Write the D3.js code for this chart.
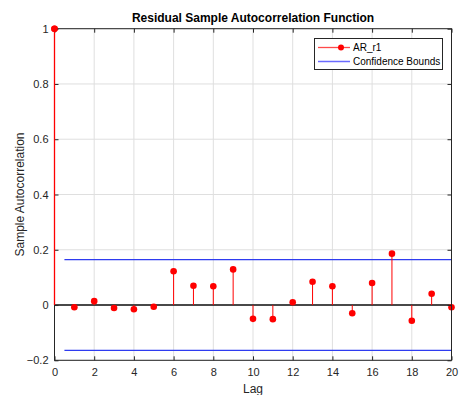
<!DOCTYPE html>
<html><head><meta charset="utf-8">
<script src="https://cdn.jsdelivr.net/npm/d3@7"></script>
<style>body{margin:0;background:#fff}svg{display:block;font-family:"Liberation Sans",Arial,sans-serif}</style>
</head><body><svg id="c" width="459" height="395"></svg>
<script>
const lags = [0,1,2,3,4,5,6,7,8,9,10,11,12,13,14,15,16,17,18,19,20];
const acf = [1,-0.008,0.014,-0.011,-0.015,-0.006,0.122,0.070,0.068,0.129,-0.050,-0.051,0.010,0.084,0.068,-0.030,0.080,0.186,-0.057,0.041,-0.008];
const bounds = [0.164,-0.164];
const boundRange = [0.5,20];
const xTicks = [0,2,4,6,8,10,12,14,16,18,20];
const yTicks = [-0.2,0,0.2,0.4,0.6,0.8,1];
const title = "Residual Sample Autocorrelation Function";
const xLabel = "Lag", yLabel = "Sample Autocorrelation";
const seriesName = "AR_r1", boundsName = "Confidence Bounds";

const svg = d3.select("#c");
const L=54.5,R=451.5,T=28.7,B=360.3;
const x = d3.scaleLinear().domain([0,20]).range([L,R]);
const y = d3.scaleLinear().domain([-0.2,1]).range([B,T]);
const txt="#262626";

// grid
svg.append("g").selectAll("line").data(xTicks).join("line")
 .attr("x1",d=>x(d)).attr("x2",d=>x(d)).attr("y1",T).attr("y2",B)
 .attr("stroke","#dfdfdf").attr("stroke-width",1);
svg.append("g").selectAll("line").data(yTicks).join("line")
 .attr("y1",d=>y(d)).attr("y2",d=>y(d)).attr("x1",L).attr("x2",R)
 .attr("stroke","#dfdfdf").attr("stroke-width",1);

// zero line
svg.append("line").attr("x1",L).attr("x2",R).attr("y1",y(0)).attr("y2",y(0))
 .attr("stroke","#111").attr("stroke-width",1.5);

// bounds
svg.append("g").selectAll("line").data(bounds).join("line")
 .attr("x1",x(boundRange[0])).attr("x2",x(boundRange[1])).attr("y1",d=>y(d)).attr("y2",d=>y(d))
 .attr("stroke","#2f3cf0").attr("stroke-width",1.3);

// stems
svg.append("g").selectAll("line").data(lags).join("line")
 .attr("x1",d=>x(d)).attr("x2",d=>x(d)).attr("y1",y(0)).attr("y2",(d,i)=>y(acf[i]))
 .attr("stroke","#ff0000").attr("stroke-width",1);
svg.append("g").selectAll("circle").data(lags).join("circle")
 .attr("cx",d=>x(d)).attr("cy",(d,i)=>y(acf[i])).attr("r",3.3).attr("fill","#ff0000");

// axes box
const box = svg.append("g");
box.append("rect").attr("x",L).attr("y",T).attr("width",R-L).attr("height",B-T)
 .attr("fill","none").attr("stroke","#262626").attr("stroke-width",1);

const xa = svg.append("g").attr("transform",`translate(0,${B})`)
 .call(d3.axisBottom(x).tickValues(xTicks).tickSize(-4).tickPadding(8).tickFormat(d3.format("d")));
const xt = svg.append("g").attr("transform",`translate(0,${T})`)
 .call(d3.axisTop(x).tickValues(xTicks).tickSize(-4).tickFormat(""));
const ya = svg.append("g").attr("transform",`translate(${L},0)`)
 .call(d3.axisLeft(y).tickValues(yTicks).tickSize(-4).tickPadding(6).tickFormat(d=>d===0?"0":d3.format("")(+d.toFixed(1))));
const yr = svg.append("g").attr("transform",`translate(${R},0)`)
 .call(d3.axisRight(y).tickValues(yTicks).tickSize(-4).tickFormat(""));
[xa,xt,ya,yr].forEach(g=>{
 g.select(".domain").remove();
 g.selectAll(".tick line").attr("stroke","#262626");
 g.selectAll(".tick text").attr("fill",txt).attr("font-size",11).attr("font-family","Liberation Sans, Arial, sans-serif");
});
// redraw stem at lag 0 on top of left axis
svg.append("line").attr("x1",x(0)).attr("x2",x(0)).attr("y1",y(0)).attr("y2",y(acf[0]))
 .attr("stroke","#ff0000").attr("stroke-width",1.3);
svg.append("circle").attr("cx",x(0)).attr("cy",y(acf[0])).attr("r",3.3).attr("fill","#ff0000");

// title and labels
svg.append("text").attr("x",(L+R)/2).attr("y",22).attr("text-anchor","middle")
 .attr("font-size",12).attr("font-weight","bold").attr("fill","#000").text(title);
svg.append("text").attr("x",(L+R)/2).attr("y",393).attr("text-anchor","middle")
 .attr("font-size",12).attr("fill",txt).text(xLabel);
svg.append("text").attr("transform",`translate(24,${(T+B)/2}) rotate(-90)`).attr("text-anchor","middle")
 .attr("font-size",12).attr("fill",txt).text(yLabel);

// legend
const lg = svg.append("g");
lg.append("rect").attr("x",314.5).attr("y",38.5).attr("width",128).attr("height",31)
 .attr("fill","#fff").attr("stroke","#262626").attr("stroke-width",1);
lg.append("line").attr("x1",318).attr("x2",350).attr("y1",47.5).attr("y2",47.5).attr("stroke","#ff4a4a").attr("stroke-width",1.3);
lg.append("circle").attr("cx",341).attr("cy",47.5).attr("r",3).attr("fill","#ff0000");
lg.append("line").attr("x1",318).attr("x2",350).attr("y1",61.5).attr("y2",61.5).attr("stroke","#6b6bff").attr("stroke-width",1.5);
lg.append("text").attr("x",353).attr("y",51).attr("font-size",10).attr("fill","#000").text(seriesName);
lg.append("text").attr("x",353).attr("y",65).attr("font-size",10).attr("fill","#000").text(boundsName);
</script></body></html>
